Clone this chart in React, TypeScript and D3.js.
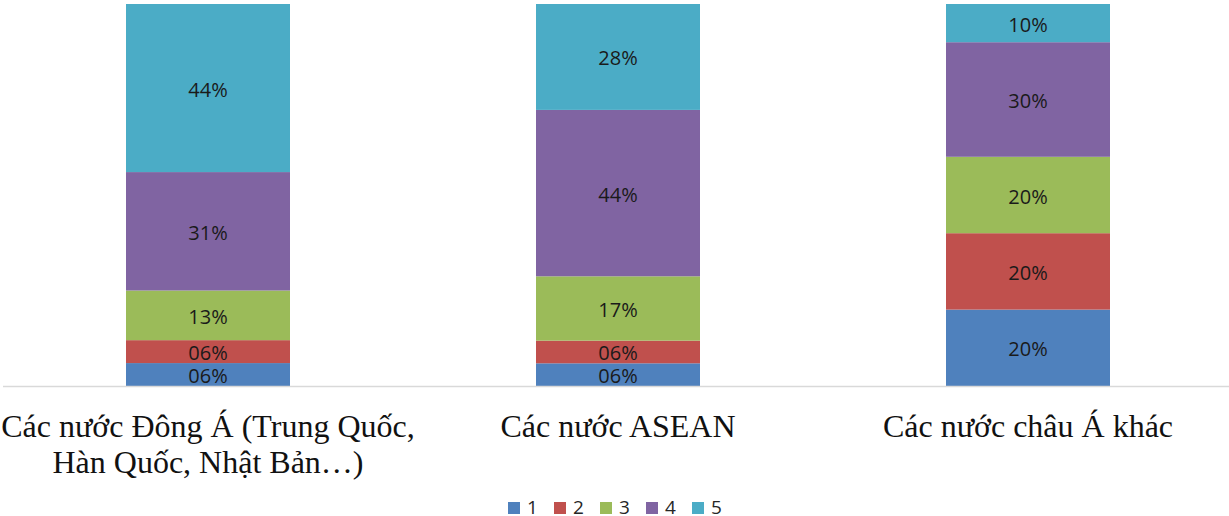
import React from "react";
import * as d3 from "d3";

const categories = ["Các nước Đông Á", "Các nước ASEAN", "Các nước châu Á khác"];
const categoryLabels: string[][] = [
  ["Các nước Đông Á (Trung Quốc,", "Hàn Quốc, Nhật Bản…)"],
  ["Các nước ASEAN"],
  ["Các nước châu Á khác"],
];
const seriesNames = ["1", "2", "3", "4", "5"];
const seriesColors = ["#4F81BD", "#C0504D", "#9BBB59", "#8064A2", "#4BACC6"];

// percentage shares per category, one array per series
const s1 = [6, 6, 20];
const s2 = [6, 6, 20];
const s3 = [13, 17, 20];
const s4 = [31, 44, 30];
const s5 = [44, 28, 10];
const seriesValues = [s1, s2, s3, s4, s5];

const W = 1229;
const H = 516;
const baseY = 386;
const topY = 4;

export default function App() {
  const rows = categories.map((c, i) => {
    const r: Record<string, any> = { cat: c };
    seriesNames.forEach((s, k) => (r[s] = seriesValues[k][i]));
    return r;
  });

  const stack = d3.stack<Record<string, any>>().keys(seriesNames).offset(d3.stackOffsetExpand);
  const layers = stack(rows);

  const x = d3
    .scaleBand<string>()
    .domain(categories)
    .range([3, 1233])
    .paddingInner(0.6)
    .paddingOuter(0.3);
  const y = d3.scaleLinear().domain([0, 1]).range([baseY, topY]);
  const fmt = d3.format("02d");

  const legendStart = 508;
  const legendStep = 46;

  return (
    <svg
      width={W}
      height={H}
      style={{ position: "absolute", left: 0, top: 0, background: "#fff" }}
    >
      {layers.map((layer, k) => (
        <g key={layer.key} fill={seriesColors[k]}>
          {layer.map((d, i) => {
            const x0 = x(categories[i])!;
            const yTop = y(d[1]);
            const yBot = y(d[0]);
            return (
              <g key={i}>
                <rect x={x0} y={yTop} width={x.bandwidth()} height={yBot - yTop} />
                <text
                  x={x0 + x.bandwidth() / 2}
                  y={(yTop + yBot) / 2 + 1}
                  textAnchor="middle"
                  dominantBaseline="central"
                  fill="#1a1a1a"
                  fontFamily="'Open Sans', sans-serif"
                  fontSize={20}
                >
                  {fmt(seriesValues[k][i]) + "%"}
                </text>
              </g>
            );
          })}
        </g>
      ))}

      <line x1={3} x2={W} y1={baseY + 0.5} y2={baseY + 0.5} stroke="#d9d9d9" strokeWidth={1.5} />

      {categories.map((c, i) => (
        <text
          key={c}
          textAnchor="middle"
          fontFamily="'Liberation Serif', 'Times New Roman', serif"
          fontSize={32}
          fill="#111"
        >
          {categoryLabels[i].map((line, j) => (
            <tspan key={j} x={x(c)! + x.bandwidth() / 2} y={437 + j * 36}>
              {line}
            </tspan>
          ))}
        </text>
      ))}

      {seriesNames.map((s, k) => (
        <g key={s} transform={`translate(${legendStart + k * legendStep},502)`}>
          <rect x={0} y={0} width={12} height={12} fill={seriesColors[k]} />
          <text
            x={19}
            y={12}
            fontFamily="'Open Sans', sans-serif"
            fontSize={19}
            fill="#262626"
          >
            {s}
          </text>
        </g>
      ))}
    </svg>
  );
}
